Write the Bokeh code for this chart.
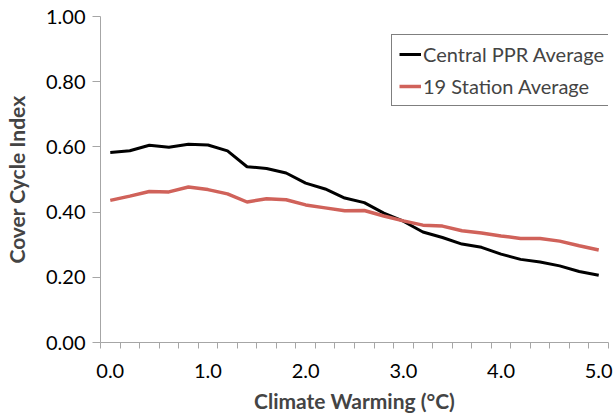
from bokeh.plotting import figure
from bokeh.models import FixedTicker, Range1d, Legend, LegendItem, PrintfTickFormatter
from bokeh.embed import file_html
from bokeh.resources import INLINE

warming = [0.0, 0.2, 0.4, 0.6, 0.8, 1.0, 1.2, 1.4, 1.6, 1.8, 2.0, 2.2, 2.4,
           2.6, 2.8, 3.0, 3.2, 3.4, 3.6, 3.8, 4.0, 4.2, 4.4, 4.6, 4.8, 5.0]
central_ppr = [0.583, 0.588, 0.605, 0.599, 0.608, 0.606, 0.588, 0.539, 0.534,
               0.520, 0.489, 0.471, 0.443, 0.429, 0.397, 0.372, 0.339, 0.322,
               0.302, 0.292, 0.271, 0.255, 0.247, 0.235, 0.218, 0.206]
station19 = [0.436, 0.449, 0.463, 0.462, 0.477, 0.469, 0.456, 0.431, 0.441,
             0.438, 0.422, 0.413, 0.404, 0.405, 0.388, 0.373, 0.360, 0.357,
             0.343, 0.336, 0.327, 0.319, 0.319, 0.311, 0.297, 0.284]
x_labels = [0.0, 1.0, 2.0, 3.0, 4.0, 5.0]
y_ticks = [0.0, 0.2, 0.4, 0.6, 0.8, 1.0]
category_edges = [-0.1, 0.1, 0.3, 0.5, 0.7, 0.9, 1.1, 1.3, 1.5, 1.7, 1.9, 2.1, 2.3,
                  2.5, 2.7, 2.9, 3.1, 3.3, 3.5, 3.7, 3.9, 4.1, 4.3, 4.5, 4.7, 4.9, 5.1]

FONT = "Lato"
AXIS_COLOR = "#A6A6A6"

p = figure(width=614, height=415, output_backend="svg", toolbar_location=None,
           x_range=Range1d(-0.1, 5.1), y_range=Range1d(0, 1.0),
           min_border_left=96, min_border_right=6, min_border_top=16, min_border_bottom=70)
p.outline_line_color = None
p.xgrid.visible = False
p.ygrid.visible = False

black = p.line(warming, central_ppr, line_color="black", line_width=3)
red = p.line(warming, station19, line_color="#D0625A", line_width=3.5)

xa = p.xaxis[0]
xa.ticker = FixedTicker(ticks=x_labels, minor_ticks=category_edges)
xa.formatter = PrintfTickFormatter(format="%.1f")
xa.major_tick_out = 0
xa.major_tick_in = 0
xa.minor_tick_out = 6
xa.minor_tick_in = 0
xa.minor_tick_line_color = AXIS_COLOR
xa.axis_line_color = AXIS_COLOR
xa.major_label_text_font = FONT
xa.major_label_text_font_size = "20px"
xa.major_label_text_color = "black"
xa.major_label_standoff = 15
xa.axis_label = "Climate Warming (°C)"
xa.axis_label_text_font = FONT
xa.axis_label_text_font_style = "bold"
xa.axis_label_text_font_size = "21px"
xa.axis_label_standoff = 7

ya = p.yaxis[0]
ya.ticker = FixedTicker(ticks=y_ticks)
ya.formatter = PrintfTickFormatter(format="%.2f")
ya.major_tick_out = 8
ya.major_tick_in = 0
ya.minor_tick_out = 0
ya.minor_tick_in = 0
ya.major_tick_line_color = AXIS_COLOR
ya.axis_line_color = AXIS_COLOR
ya.major_label_text_font = FONT
ya.major_label_text_font_size = "20px"
ya.major_label_text_color = "black"
ya.major_label_standoff = 7
ya.axis_label = "Cover Cycle Index"
ya.axis_label_text_font = FONT
ya.axis_label_text_font_style = "bold"
ya.axis_label_text_font_size = "21px"
ya.axis_label_standoff = 14

legend = Legend(items=[LegendItem(label="Central PPR Average", renderers=[black]),
                       LegendItem(label="19 Station Average", renderers=[red])],
                location=(291, 236))
legend.border_line_color = "black"
legend.border_line_width = 1
legend.background_fill_color = "white"
legend.background_fill_alpha = 1
legend.label_text_font = FONT
legend.label_text_font_size = "20px"
legend.label_height = 24
legend.glyph_height = 24
legend.glyph_width = 22
legend.label_standoff = 2
legend.padding = 7
legend.spacing = 8
legend.margin = 0
p.add_layout(legend)

open("out.html", "w").write(file_html(p, INLINE))
